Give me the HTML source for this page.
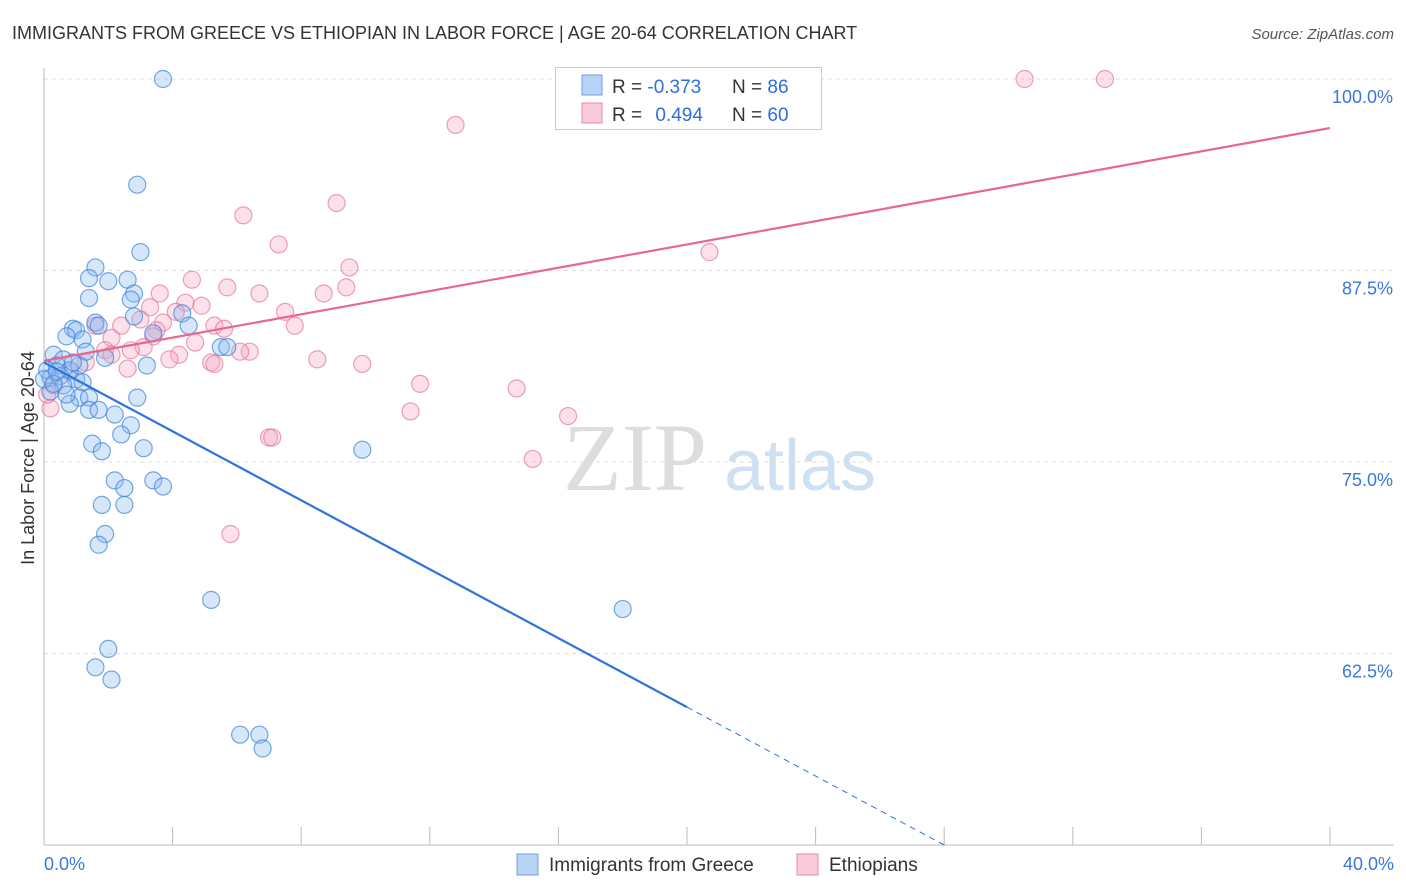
<!DOCTYPE html>
<html><head><meta charset="utf-8"><style>
body{margin:0;background:#fff;font-family:"Liberation Sans",sans-serif;}
svg{display:block}
</style></head><body>
<svg id="chart" width="1406" height="892">
<text x="12" y="39" font-size="18" fill="#333">IMMIGRANTS FROM GREECE VS ETHIOPIAN IN LABOR FORCE | AGE 20-64 CORRELATION CHART</text>
<text x="1394" y="39" font-size="15" fill="#555" font-style="italic" text-anchor="end">Source: ZipAtlas.com</text>
<g><text x="635" y="490" font-size="96" font-family="Liberation Serif,serif" fill="#ddd" text-anchor="middle">ZIP</text><text x="800" y="490" font-size="72" fill="#cfe0f3" text-anchor="middle">atlas</text></g>
<g id="grid"></g><g id="axes"></g><g id="pts"></g><g id="lines"></g>
<text transform="translate(34,458) rotate(-90)" font-size="18" fill="#333" text-anchor="middle">In Labor Force | Age 20-64</text>
<g>
<rect x="555.5" y="67.5" width="266" height="62" fill="#fff" stroke="#ccc"/>
<rect x="582" y="75" width="20" height="20" fill="#b8d3f5" stroke="#6a9fe0"/>
<rect x="582" y="103" width="20" height="20" fill="#f9cad8" stroke="#eb8aa8"/>
<text x="612" y="93" font-size="19" fill="#333">R = <tspan fill="#2e6fd6">-0.373</tspan></text>
<text x="732" y="93" font-size="19" fill="#333">N = <tspan fill="#2e6fd6">86</tspan></text>
<text x="612" y="121" font-size="19" fill="#333">R = <tspan fill="#2e6fd6" dx="8">0.494</tspan></text>
<text x="732" y="121" font-size="19" fill="#333">N = <tspan fill="#2e6fd6">60</tspan></text>
</g>
<g>
<rect x="517" y="854" width="21" height="21" fill="#b8d3f5" stroke="#6a9fe0"/>
<text x="549" y="871" font-size="19" fill="#333">Immigrants from Greece</text>
<rect x="797" y="854" width="21" height="21" fill="#f9cad8" stroke="#eb8aa8"/>
<text x="829" y="871" font-size="19" fill="#333">Ethiopians</text>
</g>
</svg>
<script>
const xTicks=[0,4,8,12,16,20,24,28,32,36,40];
const yTicks=[100,87.5,75,62.5];
const yTickLabels=["100.0%","87.5%","75.0%","62.5%"];
const blueX=[3.7,2.9,3.0,1.6,1.4,2.6,2.0,1.4,2.8,2.7,2.8,4.3,4.5,1.6,1.7,0.9,1.0,0.7,1.2,3.4,1.3,1.9,3.2,5.5,5.7,0.3,0.6,0.4,0.8,0.2,0.5,1.0,1.2,0.6,0.2,1.1,1.4,2.9,0.8,1.4,1.7,2.2,2.7,2.4,1.5,1.8,3.1,9.9,2.2,3.4,3.7,2.5,1.8,2.5,1.9,1.7,5.2,18.0,2.0,1.6,2.1,6.1,6.7,6.8,0.1,0.0,0.3,0.7,1.1,0.9,0.4];
const blueY=[100,93.1,88.7,87.7,87.0,86.9,86.8,85.7,86.0,85.6,84.5,84.7,83.9,84.1,83.9,83.7,83.6,83.2,83.0,83.4,82.2,81.8,81.3,82.5,82.5,82.0,81.7,81.3,81.0,80.5,80.6,80.4,80.2,80.0,79.6,79.2,79.2,79.2,78.8,78.4,78.4,78.1,77.4,76.8,76.2,75.7,75.9,75.8,73.8,73.8,73.4,73.3,72.2,72.2,70.3,69.6,66.0,65.4,62.8,61.6,60.8,57.2,57.2,56.3,81.0,80.4,80.1,79.4,81.3,81.5,80.9];
const pinkX=[30.5,33.0,12.8,6.2,9.1,7.3,20.7,9.5,4.6,5.7,6.7,3.6,8.7,9.4,4.4,4.9,3.3,7.5,4.1,2.4,3.7,5.3,5.6,7.8,1.6,3.0,3.5,3.4,2.1,3.1,4.7,1.9,2.7,6.4,6.1,4.2,2.1,3.9,5.2,5.3,8.5,9.9,2.6,11.7,14.7,11.4,16.3,7.0,7.1,15.2,5.8,0.2,0.1,0.3,0.8,1.3];
const pinkY=[100,100,97.0,91.1,91.9,89.2,88.7,87.7,86.9,86.4,86.0,86.0,86.0,86.4,85.4,85.2,85.1,84.8,84.8,83.9,84.1,83.9,83.7,83.9,83.9,84.3,83.6,83.2,83.1,82.5,82.8,82.3,82.3,82.2,82.2,82.0,82.0,81.7,81.5,81.4,81.7,81.4,81.1,80.1,79.8,78.3,78.0,76.6,76.6,75.2,70.3,78.5,79.4,80.0,80.9,81.5];
const blueTrend=[81.5,-1.125];
const pinkTrend=[81.6,0.38];
const NS="http://www.w3.org/2000/svg";
const sx=v=>44+v/40*1286, sy=v=>79+(100-v)/50*766;
function mk(tag,attrs,parent){const e=document.createElementNS(NS,tag);for(const k in attrs)e.setAttribute(k,attrs[k]);document.getElementById(parent).appendChild(e);return e;}
yTicks.forEach((t,i)=>{
 const g=mk('line',{x1:44,x2:1394,y1:sy(t),y2:sy(t),stroke:'#ddd','stroke-dasharray':'4,4'},'grid');
 
 
 const l=mk('text',{x:1393,y:sy(t)+24,'font-size':18,fill:'#3b78d8','text-anchor':'end'},'axes');l.textContent=yTickLabels[i];
 
 
});
mk('line',{x1:44,x2:44,y1:68,y2:845,stroke:'#bbb'},'axes');
mk('line',{x1:44,x2:1394,y1:845,y2:845,stroke:'#bbb'},'axes');
xTicks.forEach(t=>{const e=mk('line',{x1:sx(t),x2:sx(t),y1:827,y2:845,stroke:'#bbb'},'axes');
 
 });
let a=mk('text',{x:44,y:870,'font-size':18,fill:'#3b78d8'},'axes');a.textContent='0.0%';


a=mk('text',{x:1394,y:870,'font-size':18,fill:'#3b78d8','text-anchor':'end'},'axes');a.textContent='40.0%';


pinkX.forEach((x,i)=>{const c=mk('circle',{cx:sx(x),cy:sy(pinkY[i]),r:8.5,fill:'rgba(246,170,195,0.35)',stroke:'rgba(230,120,155,0.7)','stroke-width':1.2},'pts');
 
 });
blueX.forEach((x,i)=>{const c=mk('circle',{cx:sx(x),cy:sy(blueY[i]),r:8.5,fill:'rgba(140,185,240,0.35)',stroke:'rgba(60,130,220,0.7)','stroke-width':1.2},'pts');
 
 });
const bf=x=>blueTrend[0]+blueTrend[1]*x, pf=x=>pinkTrend[0]+pinkTrend[1]*x;
let ln=mk('line',{x1:sx(0),y1:sy(bf(0)),x2:sx(20),y2:sy(bf(20)),stroke:'#2c74d9','stroke-width':2.2},'lines');


ln=mk('line',{x1:sx(20),y1:sy(bf(20)),x2:sx(28),y2:sy(bf(28)),stroke:'#2c74d9','stroke-width':1,'stroke-dasharray':'6,5'},'lines');


ln=mk('line',{x1:sx(0),y1:sy(pf(0)),x2:sx(40),y2:sy(pf(40)),stroke:'#e8668f','stroke-width':2.2},'lines');


</script>
</body></html>
